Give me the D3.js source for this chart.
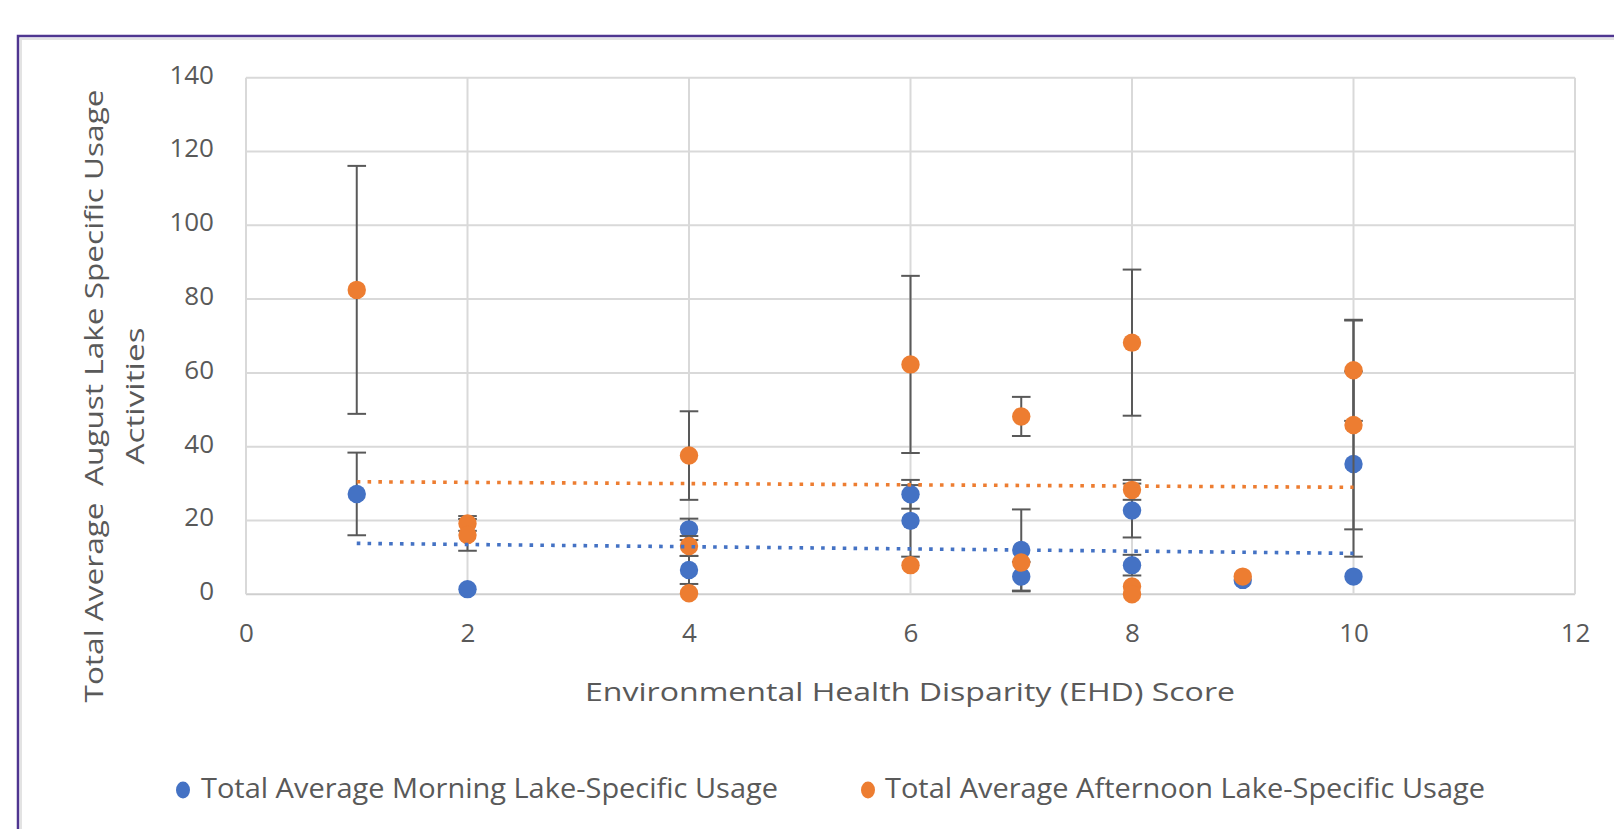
<!DOCTYPE html>
<html>
<head>
<meta charset="utf-8">
<script src="https://cdn.jsdelivr.net/npm/d3@7"></script>
<style>
  html, body { margin: 0; padding: 0; background: #fff; }
  svg { display: block; }
  text { font-family: "Open Sans", "Lato", "Liberation Sans", sans-serif; fill: #595959; }
</style>
</head>
<body>
<svg id="chart" width="1614" height="829"></svg>
<script>
// EHD score of each observation, its usage value and the error-bar half width
const morningScore  = [1, 2, 4, 4, 6, 6, 7, 7, 8, 8, 9, 10, 10];
const morningValue  = [27.2, 1.4, 17.6, 6.6, 27.1, 19.9, 12.0, 4.8, 22.7, 7.9, 3.9, 35.3, 4.8];
const morningError  = [11.2, 0, 2.9, 3.8, 3.9, 9.7, 11.0, 4.0, 7.3, 2.8, 0, 25.1, 0];

const afternoonScore = [1, 2, 2, 4, 4, 4, 6, 6, 7, 7, 8, 8, 8, 8, 9, 10, 10];
const afternoonValue = [82.5, 19.2, 16.1, 37.6, 13.1, 0.3, 62.3, 7.9, 48.2, 8.6, 68.2, 28.3, 2.1, 0.0, 4.8, 60.7, 45.9];
const afternoonError = [33.6, 2.0, 4.3, 12.0, 2.7, 0, 24.0, 0, 5.3, 0, 19.8, 2.7, 0, 0, 0, 13.7, 28.3];

// Linear trendlines (value at the first and last score)
const trendScore     = [1, 10];
const morningTrend   = [13.8, 11.1];
const afternoonTrend = [30.5, 29.0];

const xTicks = [0, 2, 4, 6, 8, 10, 12];
const yTicks = [0, 20, 40, 60, 80, 100, 120, 140];

const seriesNames = ["Total Average Morning Lake-Specific Usage", "Total Average Afternoon Lake-Specific Usage"];
const xTitle = "Environmental Health Disparity (EHD) Score";
const yTitleLines = ["Total Average  August Lake Specific Usage", "Activities"];

const BLUE = "#4472C4", ORANGE = "#ED7D31", GRID = "#D9D9D9", ERR = "#595959";

const svg = d3.select("#chart");
const plot = { left: 246, right: 1575, top: 77.7, bottom: 594.3 };

const x = d3.scaleLinear().domain([0, 12]).range([plot.left, plot.right]);
const y = d3.scaleLinear().domain([0, 140]).range([plot.bottom, plot.top]);

// Outer chart frame (top and left edges show inside the page)
svg.append("path")
  .attr("d", "M21,829 L21,39 L1614,39")
  .attr("fill", "none").attr("stroke", "#E3E3E3").attr("stroke-width", 2);
svg.append("path")
  .attr("d", "M18,829 L18,36 L1614,36")
  .attr("fill", "none").attr("stroke", "#4F3690").attr("stroke-width", 2.5);

// Gridlines
const grid = svg.append("g");
grid.selectAll("line.h").data(yTicks).join("line")
  .attr("x1", plot.left).attr("x2", plot.right)
  .attr("y1", d => y(d)).attr("y2", d => y(d))
  .attr("stroke", d => d === 0 ? "#CFCFCF" : GRID).attr("stroke-width", 2);
grid.selectAll("line.v").data(xTicks).join("line")
  .attr("y1", plot.top).attr("y2", plot.bottom)
  .attr("x1", d => x(d)).attr("x2", d => x(d))
  .attr("stroke", GRID).attr("stroke-width", 2);

// Axes (labels only, lines come from the grid)
const yAxis = svg.append("g").attr("transform", `translate(${plot.left - 10},-3)`)
  .call(d3.axisLeft(y).tickValues(yTicks).tickSize(0).tickPadding(22));
const xAxis = svg.append("g").attr("transform", `translate(0,${plot.bottom})`)
  .call(d3.axisBottom(x).tickValues(xTicks).tickSize(0).tickPadding(29));
[yAxis, xAxis].forEach(a => {
  a.select(".domain").remove();
  a.selectAll("text").attr("font-size", 26).attr("fill", "#595959")
    .attr("font-family", '"Open Sans", sans-serif');
});

// Axis titles
svg.append("text")
  .attr("x", 910).attr("y", 691).attr("text-anchor", "middle")
  .attr("dominant-baseline", "central").attr("font-size", 26)
  .attr("textLength", 650).attr("lengthAdjust", "spacingAndGlyphs")
  .text(xTitle);

const yTitle = svg.append("g").attr("transform", "translate(0,396) rotate(-90)");
yTitle.append("text")
  .attr("x", 0).attr("y", 92.6).attr("text-anchor", "middle")
  .attr("dominant-baseline", "central").attr("font-size", 26)
  .attr("textLength", 613).attr("lengthAdjust", "spacingAndGlyphs")
  .style("white-space", "pre")
  .text(yTitleLines[0]);
yTitle.append("text")
  .attr("x", 0).attr("y", 134).attr("text-anchor", "middle")
  .attr("dominant-baseline", "central").attr("font-size", 26)
  .attr("textLength", 137).attr("lengthAdjust", "spacingAndGlyphs")
  .text(yTitleLines[1]);

function seriesRows(scores, values, errors) {
  return scores.map((s, i) => ({ s, v: values[i], e: errors[i] }));
}
const morning = seriesRows(morningScore, morningValue, morningError);
const afternoon = seriesRows(afternoonScore, afternoonValue, afternoonError);

const CAP = 9.3;
function drawSeries(rows, color) {
  const g = svg.append("g");
  const eb = g.selectAll("g.err").data(rows.filter(d => d.e > 0)).join("g")
    .attr("stroke", ERR).attr("stroke-width", 2);
  eb.append("line")
    .attr("x1", d => x(d.s)).attr("x2", d => x(d.s))
    .attr("y1", d => y(d.v + d.e)).attr("y2", d => y(Math.max(0, d.v - d.e)));
  eb.append("line")
    .attr("x1", d => x(d.s) - CAP).attr("x2", d => x(d.s) + CAP)
    .attr("y1", d => y(d.v + d.e)).attr("y2", d => y(d.v + d.e));
  eb.append("line")
    .attr("x1", d => x(d.s) - CAP).attr("x2", d => x(d.s) + CAP)
    .attr("y1", d => y(Math.max(0, d.v - d.e))).attr("y2", d => y(Math.max(0, d.v - d.e)));
  g.selectAll("circle").data(rows).join("circle")
    .attr("cx", d => x(d.s)).attr("cy", d => y(d.v)).attr("r", 9.2)
    .attr("fill", color);
}
drawSeries(morning, BLUE);
drawSeries(afternoon, ORANGE);

// Dotted trendlines
const trendLine = d3.line().x(d => x(d[0])).y(d => y(d[1]));
[[morningTrend, BLUE], [afternoonTrend, ORANGE]].forEach(([vals, color]) => {
  svg.append("path")
    .datum(trendScore.map((s, i) => [s, vals[i]]))
    .attr("d", trendLine)
    .attr("fill", "none").attr("stroke", color)
    .attr("stroke-width", 3.6).attr("stroke-dasharray", "3.6 7.2");
});

// Legend
const legend = [
  { name: seriesNames[0], color: BLUE, mx: 183, tx: 201, len: 577 },
  { name: seriesNames[1], color: ORANGE, mx: 868, tx: 885, len: 600 }
];
const lg = svg.append("g").selectAll("g").data(legend).join("g");
lg.append("ellipse")
  .attr("cx", d => d.mx).attr("cy", 790).attr("rx", 7).attr("ry", 8.5)
  .attr("fill", d => d.color);
lg.append("text")
  .attr("x", d => d.tx).attr("y", 787).attr("dominant-baseline", "central")
  .attr("font-size", 27)
  .attr("textLength", d => d.len).attr("lengthAdjust", "spacingAndGlyphs")
  .text(d => d.name);
</script>
</body>
</html>
